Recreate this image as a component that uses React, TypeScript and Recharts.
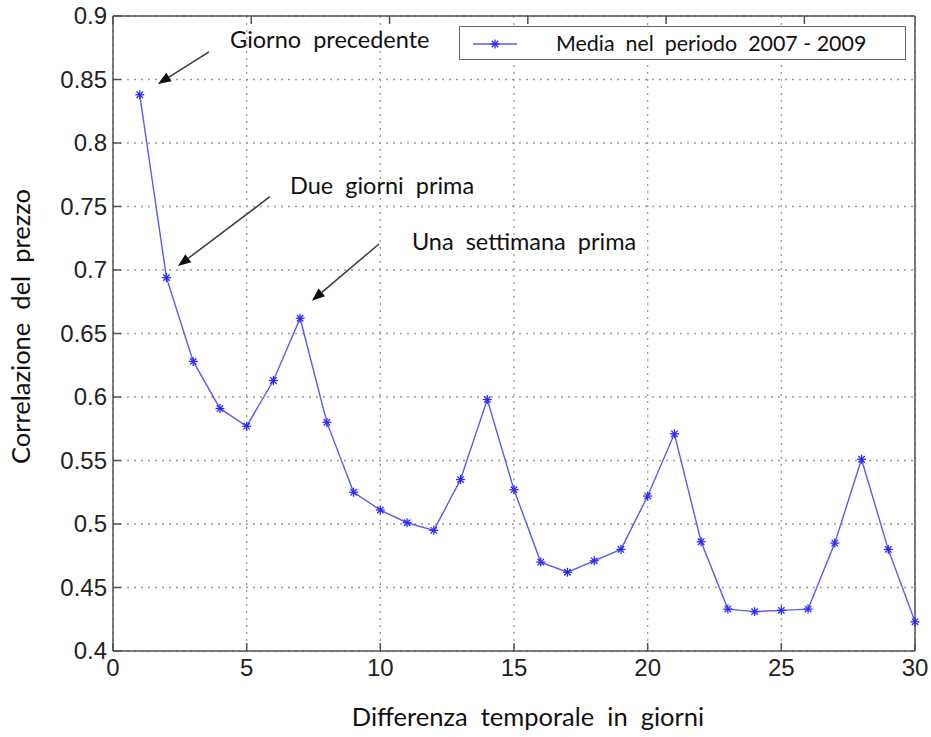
import React from 'react';
import {
  LineChart, Line, XAxis, YAxis, CartesianGrid, ReferenceLine, ReferenceDot, Legend,
} from 'recharts';

const days = [1,2,3,4,5,6,7,8,9,10,11,12,13,14,15,16,17,18,19,20,21,22,23,24,25,26,27,28,29,30];
const correlation = [0.838,0.694,0.628,0.591,0.577,0.613,0.662,0.580,0.525,0.511,0.501,0.495,0.535,0.598,0.527,0.470,0.462,0.471,0.480,0.522,0.571,0.486,0.433,0.431,0.432,0.433,0.485,0.551,0.480,0.423];
const xTicks = [0,5,10,15,20,25,30];
const yTicks = [0.4,0.45,0.5,0.55,0.6,0.65,0.7,0.75,0.8,0.85,0.9];
const seriesName = 'Media  nel  periodo  2007 - 2009';
const xTitle = 'Differenza  temporale  in  giorni';
const yTitle = 'Correlazione  del  prezzo';

const annotations = [
  { text: 'Giorno  precedente', tx: 4.38, ty: 0.8795, from: { x: 3.59, y: 0.8717 }, to: { x: 1.68, y: 0.8465 } },
  { text: 'Due  giorni  prima', tx: 6.62, ty: 0.7646, from: { x: 5.87, y: 0.7577 }, to: { x: 2.43, y: 0.7031 } },
  { text: 'Una  settimana  prima', tx: 11.18, ty: 0.7205, from: { x: 9.95, y: 0.7205 }, to: { x: 7.44, y: 0.6758 } },
];

const data = days.map((d, i) => ({ day: d, value: correlation[i] }));

const LINE_COLOR = '#5a5af0';
const MARK_COLOR = '#2a2af5';
const AXIS_COLOR = '#505050';
const FONT_TEXT = 'Lato, "Open Sans", sans-serif';
const FONT_TICK = '"Liberation Sans", Arial, sans-serif';

const Star = (props: any) => {
  const { cx, cy } = props;
  if (cx == null || cy == null) return null;
  const s = 4.5;
  const d = 3.2;
  return (
    <g stroke={MARK_COLOR} strokeWidth={1.3}>
      <line x1={cx - s} y1={cy} x2={cx + s} y2={cy} />
      <line x1={cx} y1={cy - s} x2={cx} y2={cy + s} />
      <line x1={cx - d} y1={cy - d} x2={cx + d} y2={cy + d} />
      <line x1={cx - d} y1={cy + d} x2={cx + d} y2={cy - d} />
    </g>
  );
};

const LeftTick = (props: any) => {
  const { x, y, payload } = props;
  const ax = x + 6;
  return (
    <g>
      <line x1={ax} y1={y} x2={ax + 8} y2={y} stroke={AXIS_COLOR} strokeWidth={1.5} />
      <text x={x} y={y} dy={8} textAnchor="end" fontSize={24} fontFamily={FONT_TICK} fill="#222">
        {payload.value}
      </text>
    </g>
  );
};

const BottomTick = (props: any) => {
  const { x, y, payload } = props;
  const ay = y - 6;
  return (
    <g>
      <line x1={x} y1={ay} x2={x} y2={ay - 8} stroke={AXIS_COLOR} strokeWidth={1.5} />
      <text x={x} y={y} dy={19} textAnchor="middle" fontSize={24} fontFamily={FONT_TICK} fill="#222">
        {payload.value}
      </text>
    </g>
  );
};

const RightTick = (props: any) => {
  const { x, y } = props;
  const ax = x - 2;
  return <line x1={ax} y1={y} x2={ax - 8} y2={y} stroke={AXIS_COLOR} strokeWidth={1.5} />;
};

const TopTick = (props: any) => {
  const { x, y } = props;
  const ay = y + 2;
  return <line x1={x} y1={ay} x2={x} y2={ay + 8} stroke={AXIS_COLOR} strokeWidth={1.5} />;
};

const ArrowShape = (props: any) => {
  const { x1, y1, x2, y2 } = props;
  if ([x1, y1, x2, y2].some((v) => v == null || isNaN(v))) return null;
  const ang = Math.atan2(y2 - y1, x2 - x1);
  const len = 13;
  const w = 5;
  const bx = x2 - len * Math.cos(ang);
  const by = y2 - len * Math.sin(ang);
  const px = -Math.sin(ang) * w;
  const py = Math.cos(ang) * w;
  return (
    <g>
      <line x1={x1} y1={y1} x2={bx} y2={by} stroke="#3a3a3a" strokeWidth={1.5} />
      <polygon points={`${x2},${y2} ${bx + px},${by + py} ${bx - px},${by - py}`} fill="#111" />
    </g>
  );
};

const LegendBox = () => (
  <div
    style={{
      width: 447,
      height: 34,
      border: '1.5px solid #666',
      background: '#fff',
      display: 'flex',
      alignItems: 'center',
      boxSizing: 'border-box',
    }}
  >
    <svg width={96} height={30} style={{ display: 'block' }}>
      <line x1={13} y1={16} x2={57} y2={16} stroke={LINE_COLOR} strokeWidth={1.5} />
      <Star cx={35} cy={16} />
    </svg>
    <span style={{ fontFamily: FONT_TEXT, fontSize: 21.4, color: '#111', whiteSpace: 'pre' }}>{seriesName}</span>
  </div>
);

export default function App() {
  return (
    <div style={{ position: 'absolute', left: 0, top: 0, width: 931, height: 737, background: '#fff' }}>
      <LineChart width={931} height={737} data={data} margin={{ top: 0, right: 0, bottom: 0, left: 0 }}>
        <CartesianGrid stroke="#9a9a9a" strokeDasharray="2 5" strokeWidth={1.3} />
        <XAxis
          dataKey="day"
          type="number"
          domain={[0, 30]}
          ticks={xTicks}
          height={86}
          stroke={AXIS_COLOR}
          strokeWidth={1.5}
          tickLine={false}
          tickSize={0}
          tickMargin={6}
          tick={<BottomTick />}
          interval={0}
          label={{
            content: (p: any) => (
              <text
                x={p.viewBox.x + p.viewBox.width / 2 + 14}
                y={720}
                textAnchor="middle"
                dominantBaseline="middle"
                fontFamily={FONT_TEXT}
                fontSize={25.5}
                fill="#111"
                style={{ whiteSpace: 'pre' }}
              >
                {xTitle}
              </text>
            ),
          }}
        />
        <XAxis
          xAxisId="top"
          orientation="top"
          type="number"
          domain={[0, 30]}
          ticks={xTicks}
          height={16}
          stroke={AXIS_COLOR}
          strokeWidth={1.5}
          tickLine={false}
          tickSize={0}
          tickMargin={2}
          tick={<TopTick />}
          interval={0}
        />
        <YAxis
          type="number"
          domain={[0.4, 0.9]}
          ticks={yTicks}
          width={113}
          stroke={AXIS_COLOR}
          strokeWidth={1.5}
          tickLine={false}
          tickSize={0}
          tickMargin={6}
          tick={<LeftTick />}
          interval={0}
          label={{
            content: (p: any) => {
              const cy = p.viewBox.y + p.viewBox.height / 2 - 7;
              return (
                <text
                  x={24}
                  y={cy}
                  transform={`rotate(-90, 24, ${cy})`}
                  textAnchor="middle"
                  dominantBaseline="middle"
                  fontFamily={FONT_TEXT}
                  fontSize={25.5}
                  fill="#111"
                  style={{ whiteSpace: 'pre' }}
                >
                  {yTitle}
                </text>
              );
            },
          }}
        />
        <YAxis
          yAxisId="right"
          orientation="right"
          type="number"
          domain={[0.4, 0.9]}
          ticks={yTicks}
          width={16}
          stroke={AXIS_COLOR}
          strokeWidth={1.5}
          tickLine={false}
          tickSize={0}
          tickMargin={2}
          tick={<RightTick />}
          interval={0}
        />
        <Legend
          layout="horizontal"
          verticalAlign="middle"
          align="center"
          wrapperStyle={{ position: 'absolute', left: 459, top: 26, width: 447, height: 34 }}
          content={() => <LegendBox />}
        />
        {annotations.map((a, i) => (
          <ReferenceLine
            key={`arr${i}`}
            segment={[a.from, a.to]}
            ifOverflow="visible"
            shape={<ArrowShape />}
          />
        ))}
        {annotations.map((a, i) => (
          <ReferenceDot
            key={`txt${i}`}
            x={a.tx}
            y={a.ty}
            r={0}
            ifOverflow="visible"
            shape={(p: any) => (
              <text
                x={p.cx}
                y={p.cy}
                dominantBaseline="middle"
                fontFamily={FONT_TEXT}
                fontSize={23.5}
                fill="#111"
                style={{ whiteSpace: 'pre' }}
              >
                {a.text}
              </text>
            )}
          />
        ))}
        <Line
          type="linear"
          dataKey="value"
          name={seriesName}
          stroke={LINE_COLOR}
          strokeWidth={1.4}
          dot={<Star />}
          activeDot={false}
          isAnimationActive={false}
          legendType="line"
        />
      </LineChart>
    </div>
  );
}
